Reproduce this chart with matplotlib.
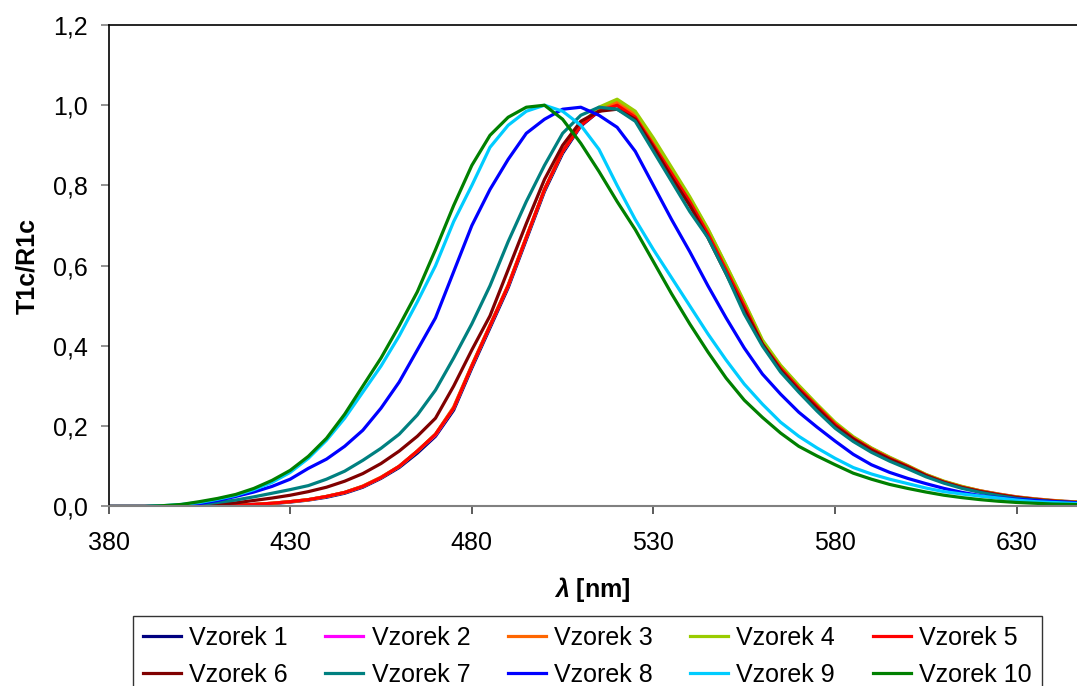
import matplotlib
matplotlib.use('Agg')
import matplotlib.pyplot as plt

plt.rcParams['font.family'] = ['Liberation Sans', 'DejaVu Sans']
plt.rcParams['mathtext.fontset'] = 'custom'
plt.rcParams['mathtext.it'] = 'Liberation Sans:italic:bold'
plt.rcParams['mathtext.rm'] = 'Liberation Sans:bold'

# wavelength grid (nm), values every 5 nm
wl = list(range(380, 655, 5))

vz1 = [0, 0, 0, 0, 0, 0.001, 0.002, 0.003, 0.005, 0.007, 0.011, 0.016, 0.023, 0.033, 0.048, 0.07,
       0.097, 0.133, 0.175, 0.24, 0.345, 0.445, 0.545, 0.665, 0.785, 0.88, 0.948, 0.985, 1.0, 0.972,
       0.905, 0.833, 0.762, 0.682, 0.592, 0.502, 0.407, 0.347, 0.297, 0.25, 0.205, 0.17, 0.143, 0.12,
       0.1, 0.078, 0.061, 0.048, 0.038, 0.03, 0.023, 0.018, 0.014, 0.011, 0.009]
vz2 = [0, 0, 0, 0, 0, 0.001, 0.002, 0.003, 0.005, 0.008, 0.012, 0.017, 0.025, 0.035, 0.05, 0.072,
       0.1, 0.138, 0.178, 0.245, 0.35, 0.45, 0.55, 0.67, 0.79, 0.885, 0.95, 0.99, 1.005, 0.975,
       0.905, 0.835, 0.762, 0.685, 0.595, 0.505, 0.41, 0.348, 0.3, 0.252, 0.207, 0.172, 0.145, 0.122,
       0.101, 0.079, 0.062, 0.049, 0.039, 0.031, 0.024, 0.019, 0.015, 0.012, 0.01]
vz3 = [0, 0, 0, 0, 0, 0.001, 0.002, 0.003, 0.005, 0.008, 0.012, 0.017, 0.025, 0.035, 0.051, 0.073,
       0.1, 0.138, 0.18, 0.248, 0.352, 0.452, 0.552, 0.672, 0.79, 0.885, 0.952, 0.99, 1.008, 0.978,
       0.912, 0.84, 0.768, 0.69, 0.6, 0.508, 0.412, 0.35, 0.3, 0.252, 0.207, 0.172, 0.145, 0.121,
       0.1, 0.079, 0.062, 0.049, 0.039, 0.03, 0.023, 0.018, 0.014, 0.011, 0.009]
vz4 = [0, 0, 0, 0, 0, 0.001, 0.002, 0.003, 0.005, 0.008, 0.012, 0.017, 0.025, 0.035, 0.05, 0.072,
       0.1, 0.138, 0.18, 0.245, 0.35, 0.45, 0.55, 0.67, 0.79, 0.885, 0.952, 0.995, 1.015, 0.985,
       0.918, 0.845, 0.772, 0.692, 0.602, 0.51, 0.415, 0.352, 0.302, 0.255, 0.21, 0.174, 0.146, 0.123,
       0.102, 0.08, 0.063, 0.05, 0.039, 0.031, 0.024, 0.019, 0.015, 0.012, 0.01]
vz5 = [0, 0, 0, 0, 0, 0.001, 0.002, 0.003, 0.005, 0.008, 0.012, 0.017, 0.025, 0.035, 0.05, 0.072,
       0.1, 0.138, 0.18, 0.245, 0.35, 0.45, 0.55, 0.67, 0.79, 0.885, 0.95, 0.985, 1.0, 0.97,
       0.9, 0.83, 0.76, 0.68, 0.59, 0.5, 0.405, 0.345, 0.295, 0.25, 0.205, 0.17, 0.143, 0.12,
       0.1, 0.078, 0.061, 0.048, 0.038, 0.03, 0.023, 0.018, 0.014, 0.011, 0.009]
vz6 = [0, 0, 0, 0, 0.001, 0.002, 0.005, 0.009, 0.015, 0.021, 0.028, 0.037, 0.048, 0.063, 0.082, 0.107,
       0.138, 0.175, 0.22, 0.3, 0.39, 0.475, 0.59, 0.705, 0.815, 0.9, 0.96, 0.985, 0.99, 0.965,
       0.895, 0.82, 0.75, 0.67, 0.58, 0.49, 0.405, 0.34, 0.29, 0.245, 0.2, 0.168, 0.14, 0.118,
       0.098, 0.077, 0.06, 0.047, 0.037, 0.029, 0.022, 0.017, 0.013, 0.01, 0.008]
vz7 = [0, 0, 0, 0.001, 0.002, 0.005, 0.01, 0.016, 0.024, 0.033, 0.042, 0.052, 0.068, 0.088, 0.115, 0.145,
       0.18, 0.228, 0.29, 0.37, 0.455, 0.55, 0.66, 0.76, 0.85, 0.93, 0.975, 0.995, 0.99, 0.96,
       0.885, 0.81, 0.735, 0.67, 0.58, 0.48, 0.4, 0.335, 0.285, 0.238, 0.195, 0.162, 0.135, 0.113,
       0.094, 0.074, 0.058, 0.045, 0.035, 0.027, 0.02, 0.016, 0.012, 0.01, 0.008]
vz8 = [0, 0, 0, 0.001, 0.003, 0.007, 0.015, 0.025, 0.036, 0.05, 0.068, 0.095, 0.118, 0.15, 0.19, 0.245,
       0.31, 0.39, 0.47, 0.585, 0.7, 0.79, 0.865, 0.93, 0.965, 0.99, 0.995, 0.975, 0.945, 0.885,
       0.8, 0.715, 0.635, 0.55, 0.47, 0.395, 0.33, 0.28, 0.235, 0.198, 0.163, 0.13, 0.104, 0.085,
       0.07, 0.057, 0.045, 0.035, 0.027, 0.022, 0.018, 0.015, 0.012, 0.01, 0.008]
vz9 = [0, 0, 0, 0.002, 0.005, 0.01, 0.018, 0.028, 0.042, 0.06, 0.085, 0.12, 0.165, 0.22, 0.285, 0.35,
       0.425, 0.51, 0.6, 0.71, 0.8, 0.895, 0.95, 0.985, 1.0, 0.985, 0.95, 0.89, 0.8, 0.715,
       0.64, 0.57, 0.5, 0.43, 0.365, 0.305, 0.255, 0.21, 0.175, 0.146, 0.12, 0.097, 0.081, 0.068,
       0.057, 0.046, 0.037, 0.031, 0.026, 0.021, 0.016, 0.012, 0.01, 0.008, 0.006]
vz10 = [0, 0, 0, 0.002, 0.005, 0.012, 0.02, 0.03, 0.045, 0.065, 0.09, 0.125, 0.17, 0.23, 0.3, 0.37,
        0.45, 0.535, 0.64, 0.75, 0.85, 0.925, 0.97, 0.995, 1.0, 0.965, 0.905, 0.835, 0.76, 0.69,
        0.61, 0.53, 0.455, 0.385, 0.32, 0.265, 0.222, 0.183, 0.15, 0.126, 0.104, 0.083, 0.068, 0.055,
        0.045, 0.036, 0.028, 0.022, 0.017, 0.013, 0.01, 0.008, 0.006, 0.005, 0.004]

series = [vz1, vz2, vz3, vz4, vz5, vz6, vz7, vz8, vz9, vz10]
names = ['Vzorek %d' % i for i in range(1, 11)]
colors = ['#000080', '#FF00FF', '#FF6600', '#99CC00', '#FF0000',
          '#800000', '#008080', '#0000FF', '#00CCFF', '#008000']

fig = plt.figure(figsize=(10.77, 6.86), dpi=100)
ax = fig.add_axes([0.1008, 0.2617, 0.8992, 0.7019])

lines = []
for s, n, c in zip(series, names, colors):
    ln, = ax.plot(wl, s, color=c, lw=2.3, label=n)
    lines.append(ln)

ax.set_xlim(380, 646.6)
ax.set_ylim(0, 1.2)
ax.set_xticks([380, 430, 480, 530, 580, 630])
ax.set_yticks([0, 0.2, 0.4, 0.6, 0.8, 1.0, 1.2])
ax.set_yticklabels(['0,0', '0,2', '0,4', '0,6', '0,8', '1,0', '1,2'])
ax.tick_params(axis='both', labelsize=18, length=5.8, width=1.2, direction='out')
ax.tick_params(axis='y', color='#808080', pad=9)
ax.tick_params(axis='x', color='#404040', pad=12)
ax.spines['right'].set_visible(False)
ax.spines['bottom'].set_color('#808080')
ax.spines['bottom'].set_linewidth(1.5)
ax.spines['left'].set_linewidth(1.2)
ax.spines['top'].set_linewidth(1.2)

ax.set_ylabel('T1c/R1c', fontsize=18, fontweight='bold', labelpad=10)
ax.set_xlabel(r'$\lambda$ [nm]', fontsize=18, fontweight='bold', labelpad=14)

# legend filled row by row
order = [0, 5, 1, 6, 2, 7, 3, 8, 4, 9]
leg = fig.legend([lines[i] for i in order], [names[i] for i in order],
                 ncol=5, loc='upper left', bbox_to_anchor=(133 / 1077, 1 - 616 / 686),
                 fontsize=18, frameon=True, fancybox=False, edgecolor='black',
                 handlelength=1.52, handletextpad=0.33, columnspacing=1.5,
                 labelspacing=0.5, borderpad=0.4, borderaxespad=0)
leg.get_frame().set_linewidth(1.0)

fig.savefig('out.png', dpi=100)
